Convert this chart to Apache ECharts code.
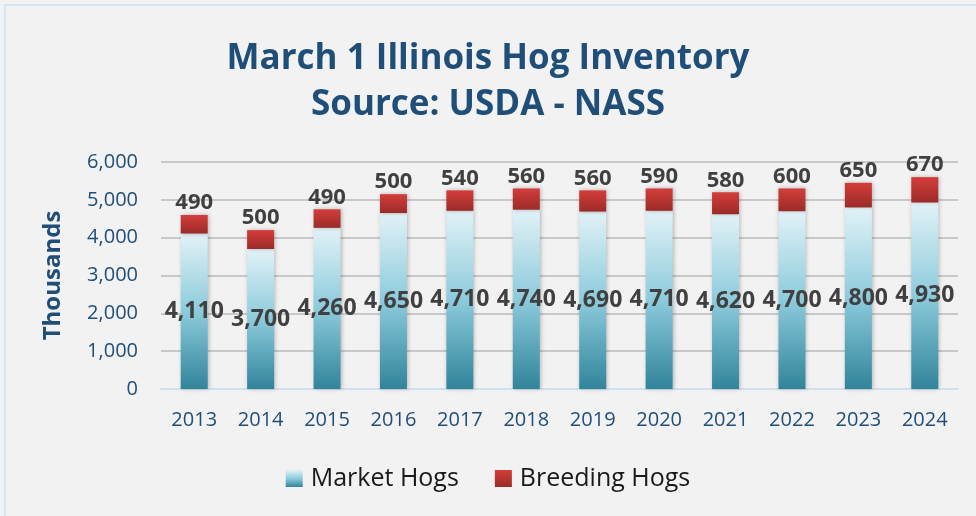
<!DOCTYPE html>
<html>
<head>
<meta charset="utf-8">
<script src="https://cdn.jsdelivr.net/npm/echarts@6/dist/echarts.min.js"></script>
<style>
  html, body { margin: 0; padding: 0; background: #ffffff; }
  #chart { width: 976px; height: 516px; }
</style>
</head>
<body>
<div id="chart"></div>
<script>
const years = ['2013', '2014', '2015', '2016', '2017', '2018', '2019', '2020', '2021', '2022', '2023', '2024']
const marketHogs = [4110, 3700, 4260, 4650, 4710, 4740, 4690, 4710, 4620, 4700, 4800, 4930]
const breedingHogs = [490, 500, 490, 500, 540, 560, 560, 590, 580, 600, 650, 670]

const blue = '#1f4e79'
const fmt = (v) => v.toLocaleString('en-US')

const marketFill = new echarts.graphic.LinearGradient(0, 0, 0, 1, [
  { offset: 0, color: '#e2f2f7' },
  { offset: 0.5, color: '#8ccbdc' },
  { offset: 1, color: '#31849b' },
])
const breedingFill = new echarts.graphic.LinearGradient(0, 0, 0, 1, [
  { offset: 0, color: '#d43d3a' },
  { offset: 1, color: '#9b2b28' },
])

const chart = echarts.init(document.getElementById('chart'))
chart.setOption({
  backgroundColor: '#f2f2f2',
  textStyle: { fontFamily: 'Open Sans' },
  graphic: [
    {
      type: 'rect',
      shape: { x: 5, y: 5, width: 980, height: 520 },
      style: { fill: 'none', stroke: '#d6e3f0', lineWidth: 2 },
      silent: true,
    },
  ],
  title: {
    text: 'March 1 Illinois Hog Inventory\nSource: USDA - NASS',
    left: 'center',
    top: 31,
    textStyle: {
      fontFamily: 'Open Sans',
      fontSize: 35,
      fontWeight: 'bold',
      color: blue,
      lineHeight: 46,
    },
  },
  legend: {
    bottom: 20,
    left: 'center',
    icon: 'rect',
    itemWidth: 17,
    itemHeight: 17,
    itemGap: 36,
    textStyle: { fontSize: 25, color: '#1a1a1a', fontFamily: 'Open Sans', padding: [0, 0, 0, 3] },
    data: ['Market Hogs', 'Breeding Hogs'],
  },
  grid: { left: 161, right: 18, top: 162, bottom: 127 },
  xAxis: {
    type: 'category',
    data: years,
    axisTick: { show: false },
    axisLine: { lineStyle: { color: '#d0e0ef', width: 2 } },
    axisLabel: { color: blue, fontSize: 20, margin: 21 },
  },
  yAxis: {
    type: 'value',
    min: 0,
    max: 6000,
    interval: 1000,
    name: 'Thousands',
    nameLocation: 'middle',
    nameGap: 96,
    nameTextStyle: { color: blue, fontSize: 24, fontWeight: 'bold' },
    axisLabel: { color: blue, fontSize: 20, margin: 23, formatter: fmt },
    splitLine: { lineStyle: { color: '#c8c8c8', width: 2 } },
  },
  series: [
    {
      name: 'Market Hogs',
      type: 'bar',
      stack: 'hogs',
      barWidth: 27,
      data: marketHogs,
      itemStyle: {
        color: marketFill,
        shadowColor: 'rgba(0,0,0,0.25)',
        shadowBlur: 4,
        shadowOffsetX: 1,
      },
      label: {
        show: true,
        position: 'inside',
        formatter: (p) => fmt(p.value),
        color: '#404040',
        fontSize: 23,
        fontWeight: 'bold',
      },
    },
    {
      name: 'Breeding Hogs',
      type: 'bar',
      stack: 'hogs',
      barWidth: 27,
      data: breedingHogs,
      itemStyle: {
        color: breedingFill,
        shadowColor: 'rgba(0,0,0,0.25)',
        shadowBlur: 4,
        shadowOffsetX: 1,
      },
      label: {
        show: true,
        position: 'top',
        distance: 1,
        formatter: (p) => fmt(p.value),
        color: '#404040',
        fontSize: 22,
        fontWeight: 'bold',
      },
    },
  ],
})
</script>
</body>
</html>
